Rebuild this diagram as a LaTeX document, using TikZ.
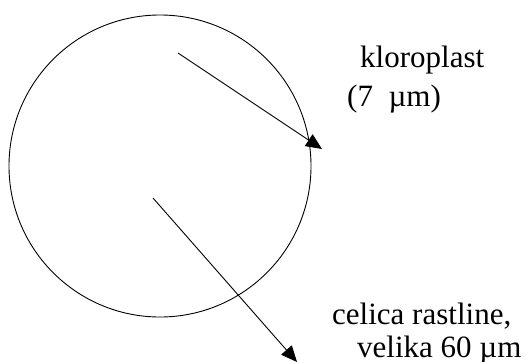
\documentclass[tikz,border=0pt]{standalone}
\usepackage{fontspec}
\setmainfont{Liberation Serif}
\usetikzlibrary{arrows.meta,positioning}
\definecolor{ink}{HTML}{000000}

\begin{document}
\begin{tikzpicture}[x=1pt,y=-1pt,
  lbl/.style={inner sep=0pt,anchor=base west,font=\fontsize{31}{36}\selectfont},
  pointer/.style={-{Triangle[length=16pt,width=14pt]},ink,line width=0.9pt}]
\useasboundingbox (0,0) rectangle (526,361);
\node[draw=ink,line width=0.9pt,circle,minimum size=302pt,inner sep=0pt] (cell) at (160,166) {};
\coordinate (klostart) at (178,53);
\coordinate (klotip) at (322,149);
\coordinate (celstart) at (153,198);
\coordinate (celtip) at (297,362);
\draw[pointer] (klostart)--(klotip);
\draw[pointer] (celstart)--(celtip);
\node[lbl] (klo) at (360,67) {kloroplast};
\node[lbl] (size7) at (347,106) {(7\ \ µm)};
\node[lbl] (cel) at (332,324) {celica rastline,};
\node[lbl] (vel) at (357,357) {velika 60 µm};
\end{tikzpicture}
\end{document}
